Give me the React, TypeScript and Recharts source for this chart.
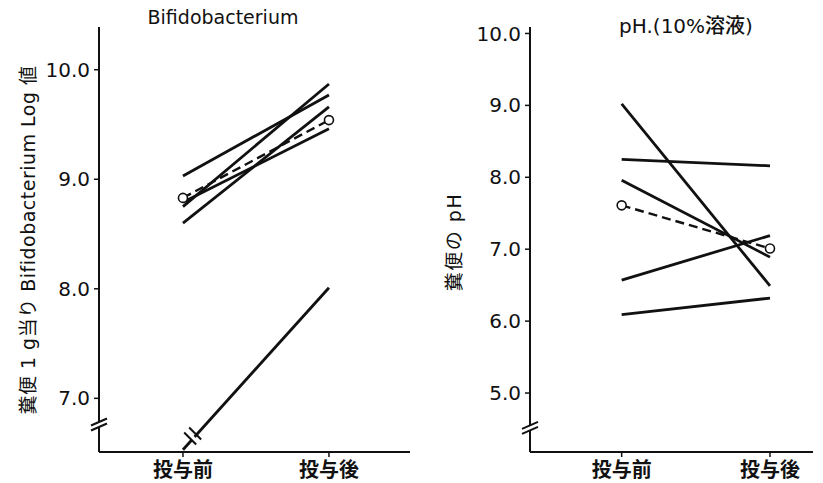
import React from "react";
import { LineChart, Line, XAxis, YAxis, ReferenceDot } from "recharts";

// stages on the x axis
const stages = ["投与前", "投与後"];

// Bifidobacterium log values, one entry per subject
const bifBefore = [9.03, 8.75, 8.6, 8.79, 6.53];
const bifAfter = [9.77, 9.87, 9.66, 9.46, 8.01];
const bifMean = [8.83, 9.54];
const bifTicks = [7, 8, 9, 10];

// fecal pH (10% solution)
const phBefore = [9.02, 8.25, 7.96, 6.57, 6.09];
const phAfter = [6.49, 8.16, 6.89, 7.19, 6.32];
const phMean = [7.61, 7.01];
const phTicks = [5, 6, 7, 8, 9, 10];

const bifDomainY: [number, number] = [6.51, 10.39];
const bifDomainX: [number, number] = [0.425, 2.555];
const phDomainY: [number, number] = [4.18, 10.09];
const phDomainX: [number, number] = [0.382, 2.29];

const build = (before: number[], after: number[], mean: number[]) =>
  stages.map((stage, i) => {
    const row: any = { x: i + 1, stage, mean: mean[i] };
    before.forEach((_, k) => {
      row["s" + k] = i === 0 ? before[k] : after[k];
    });
    return row;
  });

const bifData = build(bifBefore, bifAfter, bifMean);
const phData = build(phBefore, phAfter, phMean);

const tickFont = { fontFamily: "DejaVu Sans", fontSize: 20, fill: "#111" };
const catFont = { fontFamily: "Noto Sans CJK JP", fontSize: 20, fontWeight: 700, fill: "#111" };

// "//" on the y axis
const AxisBreak = (p: any) => {
  const { cx, cy } = p;
  return (
    <g>
      <polygon points={`${cx - 8},${cy + 2} ${cx + 8},${cy - 5} ${cx + 8},${cy} ${cx - 8},${cy + 7}`} fill="#fff" />
      <line x1={cx - 8} y1={cy + 2} x2={cx + 8} y2={cy - 5} stroke="#111" strokeWidth={2} />
      <line x1={cx - 8} y1={cy + 7} x2={cx + 8} y2={cy} stroke="#111" strokeWidth={2} />
    </g>
  );
};

// "//" across a data line
const LineBreak = (p: any) => {
  const { cx, cy } = p;
  return (
    <g>
      <polygon points={`${cx - 9},${cy - 6} ${cx + 3},${cy + 6} ${cx + 6},${cy + 3} ${cx - 6},${cy - 9}`} fill="#fff" />
      <line x1={cx - 9} y1={cy - 6} x2={cx + 3} y2={cy + 6} stroke="#111" strokeWidth={2} />
      <line x1={cx - 4} y1={cy - 11} x2={cx + 8} y2={cy + 1} stroke="#111" strokeWidth={2} />
    </g>
  );
};

const MeanDot = (p: any) => (
  <circle cx={p.cx} cy={p.cy} r={4.5} fill="#fff" stroke="#111" strokeWidth={1.6} />
);

function Panel(props: {
  data: any[];
  n: number;
  domainX: [number, number];
  domainY: [number, number];
  ticks: number[];
  yWidth: number;
  width: number;
  axisBreakY: number;
  lineBreak?: { x: number; y: number };
}) {
  const { data, n, domainX, domainY, ticks, yWidth, width, axisBreakY, lineBreak } = props;
  return (
    <LineChart width={width} height={483} data={data} margin={{ top: 27, right: 10, bottom: 0, left: 0 }}>
      <XAxis
        dataKey="x"
        type="number"
        domain={domainX}
        ticks={[1, 2]}
        allowDataOverflow
        height={31}
        tickFormatter={(v) => stages[v - 1]}
        tick={catFont}
        tickSize={5}
        tickMargin={6}
        axisLine={{ stroke: "#111", strokeWidth: 2 }}
        tickLine={{ stroke: "#111", strokeWidth: 1.5 }}
      />
      <YAxis
        type="number"
        domain={domainY}
        ticks={ticks}
        allowDataOverflow
        width={yWidth}
        tickFormatter={(v) => Number(v).toFixed(1)}
        tick={tickFont}
        tickSize={5}
        tickMargin={4}
        axisLine={{ stroke: "#111", strokeWidth: 2 }}
        tickLine={{ stroke: "#111", strokeWidth: 1.5 }}
      />
      {Array.from({ length: n }).map((_, k) => (
        <Line
          key={k}
          dataKey={"s" + k}
          stroke="#111"
          strokeWidth={2.8}
          dot={false}
          activeDot={false}
          isAnimationActive={false}
        />
      ))}
      <Line
        dataKey="mean"
        stroke="#111"
        strokeWidth={2.4}
        strokeDasharray="9 5"
        dot={<MeanDot />}
        activeDot={false}
        isAnimationActive={false}
      />
      <ReferenceDot x={domainX[0]} y={axisBreakY} r={0} ifOverflow="visible" shape={<AxisBreak />} />
      {lineBreak ? (
        <ReferenceDot x={lineBreak.x} y={lineBreak.y} r={0} ifOverflow="visible" shape={<LineBreak />} />
      ) : null}
    </LineChart>
  );
}

const breakX = 1.07;
const breakY = bifBefore[4] + (breakX - 1) * (bifAfter[4] - bifBefore[4]);

export default function App() {
  const rotated: React.CSSProperties = {
    position: "absolute",
    transform: "translate(-50%, -50%) rotate(-90deg)",
    whiteSpace: "nowrap",
    fontFamily: "DejaVu Sans, 'Noto Sans CJK JP'",
    fontSize: 19,
    color: "#111",
  };
  const title: React.CSSProperties = {
    position: "absolute",
    transform: "translateX(-50%)",
    whiteSpace: "nowrap",
    fontFamily: "DejaVu Sans, 'Noto Sans CJK JP'",
    fontSize: 19,
    color: "#111",
  };
  return (
    <div style={{ position: "absolute", left: 0, top: 0, width: 823, height: 483, background: "#fff", overflow: "hidden" }}>
      <div style={{ position: "absolute", left: 0, top: 0 }}>
        <Panel
          data={bifData}
          n={bifBefore.length}
          domainX={bifDomainX}
          domainY={bifDomainY}
          ticks={bifTicks}
          yWidth={99}
          width={420}
          axisBreakY={6.77}
          lineBreak={{ x: breakX, y: breakY }}
        />
      </div>
      <div style={{ position: "absolute", left: 420, top: 0 }}>
        <Panel
          data={phData}
          n={phBefore.length}
          domainX={phDomainX}
          domainY={phDomainY}
          ticks={phTicks}
          yWidth={110}
          width={403}
          axisBreakY={4.53}
        />
      </div>
      <div style={{ ...title, left: 223, top: 6 }}>Bifidobacterium</div>
      <div style={{ ...title, left: 686, top: 10, fontSize: 20, fontWeight: 500 }}>pH.(10%溶液)</div>
      <div style={{ ...rotated, left: 26, top: 240, letterSpacing: 0.5 }}>糞便 1 g当り Bifidobacterium Log 値</div>
      <div style={{ ...rotated, left: 452, top: 242, letterSpacing: 1.5 }}>糞便の pH</div>
    </div>
  );
}
